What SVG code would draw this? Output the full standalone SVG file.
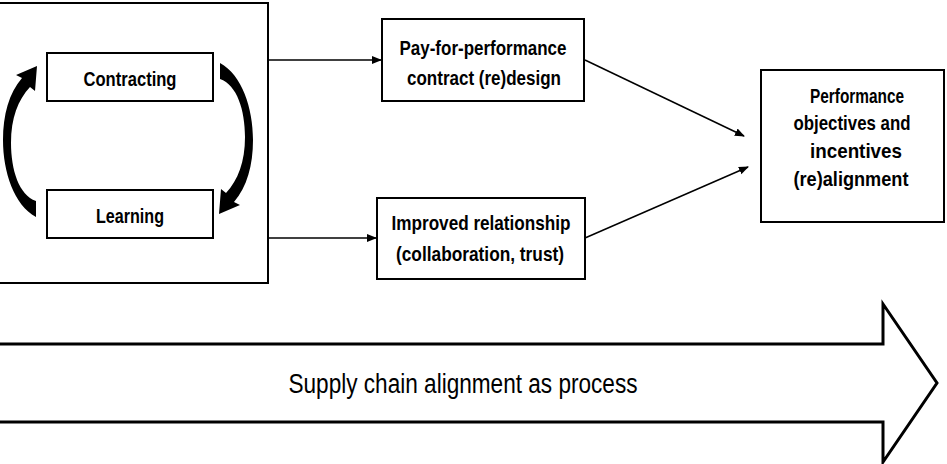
<svg xmlns="http://www.w3.org/2000/svg" width="947" height="464" viewBox="0 0 947 464">
<defs>
<style>
.box{fill:#fff;stroke:#000;stroke-width:2}
.t{font-family:"Liberation Sans Narrow","Liberation Sans",Arial,sans-serif;font-weight:bold;font-size:21px;fill:#000;text-anchor:middle}
.c{stroke:#000;stroke-width:1.5;fill:none}
.big{font-family:"Liberation Sans Narrow","Liberation Sans",Arial,sans-serif;font-size:27px;fill:#000;text-anchor:middle}
</style>
<marker id="ah" markerWidth="10" markerHeight="10" refX="9" refY="5" orient="auto" markerUnits="userSpaceOnUse" viewBox="0 0 10 10">
<path d="M0,1 L10,5 L0,9 Z" fill="#000"/>
</marker>
<path id="curl" d="M36,201 C19,195 11,170 11,143 C11,118 18,100 30,87 L35,91 L37,66 L16,75 L22,78 C9,93 3,115 3,140 C3,172 14,205 36,217 Z" fill="#000"/>
</defs>
<rect x="0" y="0" width="947" height="464" fill="#fff"/>
<g id="cycle-frame">
<rect class="box" x="-3" y="3" width="271" height="280"/>
</g>
<g id="contracting">
<rect class="box" x="47" y="53" width="166" height="48"/>
<text class="t" x="130" y="86" textLength="93" lengthAdjust="spacingAndGlyphs">Contracting</text>
</g>
<g id="learning">
<rect class="box" x="47" y="190" width="166" height="48"/>
<text class="t" x="130" y="223" textLength="68" lengthAdjust="spacingAndGlyphs">Learning</text>
</g>
<g id="pay">
<rect class="box" x="382" y="19" width="202" height="82"/>
<text class="t" x="483" y="55" textLength="167" lengthAdjust="spacingAndGlyphs">Pay-for-performance</text>
<text class="t" x="484" y="85" textLength="154" lengthAdjust="spacingAndGlyphs">contract (re)design</text>
</g>
<g id="relationship">
<rect class="box" x="377" y="198" width="208" height="81"/>
<text class="t" x="481" y="230" textLength="179" lengthAdjust="spacingAndGlyphs">Improved relationship</text>
<text class="t" x="480" y="261" textLength="168" lengthAdjust="spacingAndGlyphs">(collaboration, trust)</text>
</g>
<g id="alignment">
<rect class="box" x="761" y="70" width="183" height="152"/>
<text class="t" x="857" y="103" textLength="94" lengthAdjust="spacingAndGlyphs">Performance</text>
<text class="t" x="852" y="130" textLength="117" lengthAdjust="spacingAndGlyphs">objectives and</text>
<text class="t" x="856" y="158" textLength="92" lengthAdjust="spacingAndGlyphs">incentives</text>
<text class="t" x="851" y="186" textLength="115" lengthAdjust="spacingAndGlyphs">(re)alignment</text>
</g>
<g id="connectors">
<use href="#curl"/>
<use href="#curl" transform="rotate(180 128 140)"/>
<line class="c" x1="268" y1="60" x2="381" y2="60" marker-end="url(#ah)"/>
<line class="c" x1="268" y1="238" x2="376" y2="238" marker-end="url(#ah)"/>
<line class="c" x1="585" y1="60" x2="744" y2="136" marker-end="url(#ah)"/>
<line class="c" x1="585" y1="238" x2="748" y2="167" marker-end="url(#ah)"/>
</g>
<g id="process-arrow">
<path d="M-5,344 L883,344 L883,304 L937,383 L883,462 L883,422 L-5,422" fill="none" stroke="#000" stroke-width="3" stroke-linejoin="miter"/>
<text class="big" x="463" y="393" textLength="349" lengthAdjust="spacingAndGlyphs" font-weight="normal">Supply chain alignment as process</text>
</g>
</svg>
